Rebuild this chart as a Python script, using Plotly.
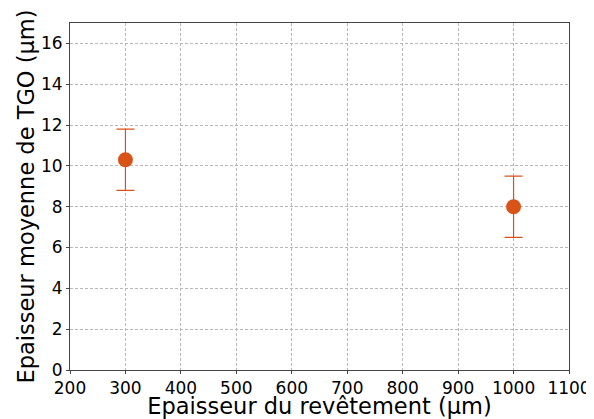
import plotly.graph_objects as go

thickness = [300, 1000]
tgo_mean = [10.3, 8.0]
tgo_err = [1.5, 1.5]

fig = go.Figure()
fig.add_trace(go.Scatter(
    x=thickness, y=tgo_mean, mode="markers",
    marker=dict(color="#D95319", size=15),
    error_y=dict(type="data", array=tgo_err, visible=True, color="#D95319", thickness=1.2, width=9),
    showlegend=False,
))
axis_common = dict(
    showgrid=True, gridcolor="#b8b8b8", griddash="3px,2px", gridwidth=0.8,
    showline=True, linecolor="#444", linewidth=1, mirror=True,
    ticks="outside", ticklen=3, tickcolor="#444", zeroline=False,
    tickfont=dict(size=17, color="black"), automargin=False,
)
fig.update_xaxes(range=[200, 1100], dtick=100, tick0=200,
                 title=dict(text="Epaisseur du revêtement (µm)", font=dict(size=22.5, color="black"), standoff=0),
                 **axis_common)
fig.update_yaxes(range=[0, 17], dtick=2, tick0=0,
                 title=dict(text="Epaisseur moyenne de TGO (µm)", font=dict(size=22.5, color="black"), standoff=0),
                 **axis_common)
fig.update_layout(
    width=586, height=411,
    margin=dict(l=62, r=25, t=15, b=49),
    plot_bgcolor="white", paper_bgcolor="white",
    font=dict(family="DejaVu Sans", color="black"),
)
fig.write_html("out.html")
